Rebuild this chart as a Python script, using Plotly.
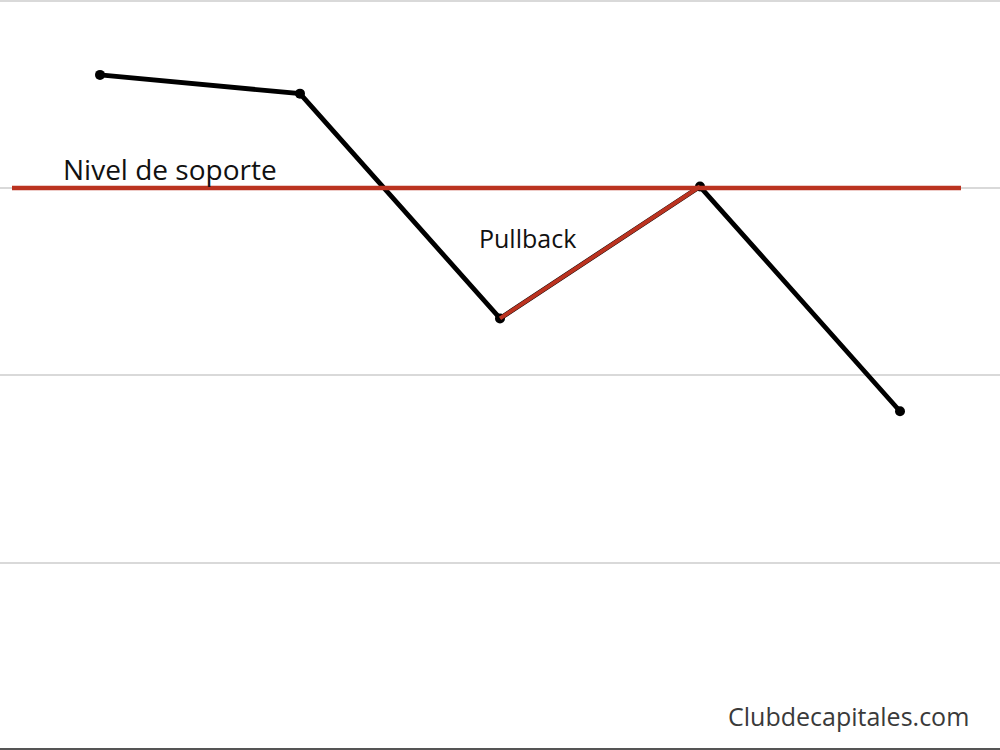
import plotly.graph_objects as go

# price path
x_vals = [0.5, 1.5, 2.5, 3.5, 4.5]
price = [90.1, 87.6, 57.6, 75.2, 45.2]

# support level
support_x = [0.06, 4.805]
support_level = [75, 75]

# pullback leg (3rd -> 4th point)
pullback_x = [2.5, 3.5]
pullback_y = [57.6, 75.2]

red = "#bb3320"

fig = go.Figure()

fig.add_trace(go.Scatter(
    x=x_vals, y=price, mode="lines+markers",
    line=dict(color="#000000", width=4.8),
    marker=dict(color="#000000", size=10),
    showlegend=False, hoverinfo="skip"))

fig.add_trace(go.Scatter(
    x=support_x, y=support_level, mode="lines",
    line=dict(color=red, width=4.5),
    showlegend=False, hoverinfo="skip"))

fig.add_trace(go.Scatter(
    x=pullback_x, y=pullback_y, mode="lines",
    line=dict(color=red, width=4),
    showlegend=False, hoverinfo="skip"))

fig.add_annotation(x=0.85, y=77.6, text="Nivel de soporte", showarrow=False,
                   font=dict(family="Open Sans", size=28, color="#111111"))
fig.add_annotation(x=2.635, y=68.3, text="Pullback", showarrow=False,
                   font=dict(family="Open Sans", size=25, color="#111111"))
fig.add_annotation(x=4.24, y=4.5, text="Clubdecapitales.com", showarrow=False,
                   font=dict(family="Open Sans", size=25, color="#3a3a3a"))

fig.update_xaxes(range=[0, 5], showgrid=False, zeroline=False, showticklabels=False,
                 showline=True, linecolor="#555555", linewidth=2)
fig.update_yaxes(range=[0.25, 100.1], tickvals=[25, 50, 75, 99.95], showgrid=True,
                 gridcolor="#d9d9d9", gridwidth=1.5, zeroline=False, showticklabels=False)

fig.update_layout(width=1000, height=750, margin=dict(l=0, r=0, t=0, b=2),
                  plot_bgcolor="white", paper_bgcolor="white")

# drop the browser's default page margin so the chart fills the window
fig.write_html("out.html", config={"displayModeBar": False},
               post_script="document.body.style.margin='0';")
